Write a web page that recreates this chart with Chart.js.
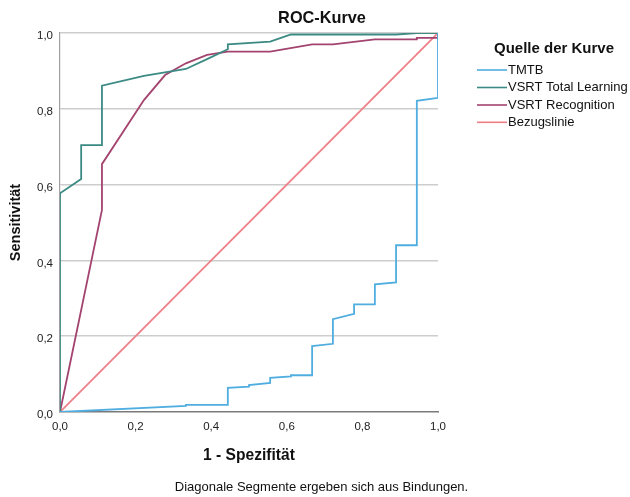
<!DOCTYPE html>
<html>
<head>
<meta charset="utf-8">
<script src="https://cdn.jsdelivr.net/npm/chart.js@4"></script>
<style>
  html, body { margin: 0; padding: 0; background: #ffffff; }
  #wrap { position: relative; width: 630px; height: 497px; }
</style>
</head>
<body>
<div id="wrap"><canvas id="c" width="630" height="497"></canvas></div>
<script>
// ---- data ----
const chartTitle = "ROC-Kurve";
const legendTitle = "Quelle der Kurve";
const footnote = "Diagonale Segmente ergeben sich aus Bindungen.";
const xAxisTitle = "1 - Spezifität";
const yAxisTitle = "Sensitivität";
const seriesNames = ["TMTB", "VSRT Total Learning", "VSRT Recognition", "Bezugslinie"];
const tickValues = [0, 0.2, 0.4, 0.6, 0.8, 1.0];

const tmtbX = [0, 0.333, 0.333, 0.444, 0.444, 0.500, 0.500, 0.556, 0.556, 0.611, 0.611, 0.667, 0.667, 0.722, 0.722, 0.778, 0.778, 0.833, 0.833, 0.889, 0.889, 0.944, 0.944, 1.000, 1.000];
const tmtbY = [0, 0.016, 0.019, 0.019, 0.064, 0.067, 0.071, 0.077, 0.090, 0.094, 0.097, 0.097, 0.174, 0.180, 0.245, 0.259, 0.284, 0.284, 0.337, 0.342, 0.440, 0.440, 0.821, 0.829, 1.000];

const learnX = [0, 0, 0.056, 0.056, 0.111, 0.111, 0.222, 0.333, 0.389, 0.444, 0.444, 0.556, 0.611, 0.889, 0.944, 1.000];
const learnY = [0, 0.577, 0.615, 0.704, 0.704, 0.861, 0.887, 0.905, 0.931, 0.957, 0.970, 0.977, 0.996, 0.996, 1.000, 1.000];

const recogX = [0, 0.111, 0.111, 0.222, 0.278, 0.333, 0.389, 0.444, 0.556, 0.667, 0.722, 0.833, 0.944, 0.944, 1.000, 1.000];
const recogY = [0, 0.533, 0.654, 0.823, 0.889, 0.920, 0.942, 0.951, 0.951, 0.970, 0.970, 0.983, 0.983, 0.987, 0.987, 1.000];

const refX = [0, 1];
const refY = [0, 1];

const seriesColors = ["#4fade0", "#3b8a84", "#a3436f", "#ee7f87"];

function pts(xs, ys) { return xs.map((x, i) => ({ x: x, y: ys[i] })); }
const seriesData = [pts(tmtbX, tmtbY), pts(learnX, learnY), pts(recogX, recogY), pts(refX, refY)];

const FONT = "'Liberation Sans', Arial, sans-serif";

const textPlugin = {
  id: 'texts',
  afterDraw(chart) {
    const ctx = chart.ctx;
    ctx.save();
    ctx.fillStyle = '#111';
    ctx.textBaseline = 'middle';
    ctx.font = 'bold 16.3px ' + FONT;
    ctx.textAlign = 'center';
    ctx.fillText(chartTitle, 322, 19);
    ctx.font = '13px ' + FONT;
    ctx.fillText(footnote, 321.5, 487);
    ctx.font = 'bold 15px ' + FONT;
    ctx.fillText(legendTitle, 554, 49);
    ctx.textAlign = 'left';
    ctx.font = '13px ' + FONT;
    const ys = [70, 87.5, 105, 122.3];
    chart.data.datasets.forEach((ds, i) => {
      ctx.strokeStyle = ds.borderColor;
      ctx.lineWidth = 1.6;
      ctx.beginPath();
      ctx.moveTo(477, ys[i]);
      ctx.lineTo(507, ys[i]);
      ctx.stroke();
      ctx.fillStyle = '#111';
      ctx.fillText(ds.label, 508, ys[i]);
    });
    ctx.restore();
  }
};

new Chart(document.getElementById('c'), {
  type: 'scatter',
  data: {
    datasets: seriesNames.map((name, i) => ({
      label: name,
      data: seriesData[i],
      showLine: true,
      borderColor: seriesColors[i],
      backgroundColor: seriesColors[i],
      borderWidth: 1.8,
      pointRadius: 0,
      pointHoverRadius: 0,
      tension: 0,
      fill: false
    }))
  },
  options: {
    responsive: false,
    animation: false,
    events: [],
    layout: { padding: { top: 33, right: 192, left: 0, bottom: 0 } },
    plugins: {
      legend: { display: false },
      title: { display: false },
      tooltip: { enabled: false }
    },
    scales: {
      x: {
        type: 'linear',
        min: 0, max: 1,
        afterFit(scale) { scale.height = 85; },
        afterBuildTicks(scale) { scale.ticks = tickValues.map(v => ({ value: v })); },
        ticks: {
          padding: 8,
          color: '#222',
          font: { family: FONT, size: 11.5 },
          callback: v => v.toFixed(1).replace('.', ',')
        },
        grid: { display: false, drawTicks: false },
        border: { display: true, color: '#7a7a7a', width: 1.5 },
        title: {
          display: true,
          text: xAxisTitle,
          color: '#111',
          font: { family: FONT, size: 15.6, weight: 'bold' },
          padding: { top: 0, bottom: 32 }
        }
      },
      y: {
        type: 'linear',
        min: 0, max: 1,
        afterFit(scale) { scale.width = 60; },
        afterBuildTicks(scale) { scale.ticks = tickValues.map(v => ({ value: v })); },
        ticks: {
          padding: 7,
          labelOffset: 3,
          color: '#222',
          font: { family: FONT, size: 11.5 },
          callback: v => v.toFixed(1).replace('.', ',')
        },
        grid: {
          drawTicks: false,
          color: ctx => (ctx.tick && ctx.tick.value === 0) ? 'rgba(0,0,0,0)' : '#cdcdcd',
          lineWidth: 1.5
        },
        border: { display: true, color: '#a0a0a0', width: 1.2 },
        title: {
          display: true,
          text: yAxisTitle,
          color: '#111',
          font: { family: FONT, size: 14.5, weight: 'bold' },
          padding: { top: 7.5, bottom: 0 }
        }
      }
    }
  },
  plugins: [textPlugin]
});
</script>
</body>
</html>
